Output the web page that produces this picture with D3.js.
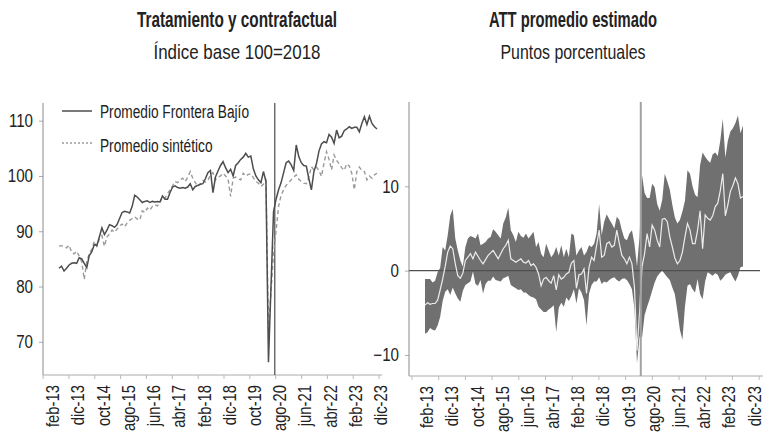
<!DOCTYPE html>
<html lang="es">
<head>
<meta charset="utf-8">
<title>Tratamiento y contrafactual - ATT promedio</title>
<script src="https://cdnjs.cloudflare.com/ajax/libs/d3/7.8.5/d3.min.js"></script>
<style>
body { margin: 0; background: #fff; }
svg text {
  font-family: "Liberation Sans", Arial, sans-serif;
  fill: #222;
}
.title { font-weight: bold; font-size: 22px; }
.subtitle { font-size: 21px; }
.yaxis .tick text { font-size: 18px; }
.xaxis .tick text { font-size: 18.5px; }
.legend text { font-size: 18px; }
</style>
</head>
<body>
<svg id="chart" width="764" height="433"></svg>
<script>

// monthly values, may-13 .. nov-23 (127 months)
var frontera = [
  83.3, 83.7, 82.8, 83.3, 83.9, 84.2, 84.3, 84.2, 85.2, 85.0,
  84.2, 83.4, 85.6, 86.3, 87.6, 87.4, 89.0, 90.6, 89.4, 90.2,
  91.2, 91.0, 90.7, 91.2, 92.3, 93.4, 93.6, 93.5, 93.3, 94.5,
  96.5, 96.2, 95.7, 95.2, 95.4, 95.5, 95.2, 95.4, 95.3, 95.4,
  95.3, 96.4, 95.8, 95.8, 97.0, 98.0, 98.2, 97.9, 97.8, 97.9,
  97.8, 98.0, 98.6, 97.5, 98.1, 98.3, 98.5, 98.6, 99.5, 100.6,
  101.0, 97.0, 99.8, 100.9, 101.9, 102.6, 101.5, 100.6, 101.2, 100.0,
  101.9, 102.4, 103.0, 103.4, 104.1, 103.4, 103.6, 101.3, 100.0, 99.3,
  98.8, 100.8, 99.0, 66.3, 80.0, 93.5, 95.8, 97.5, 98.8, 100.6,
  102.4, 102.7, 102.0, 101.0, 105.6, 103.5, 102.4, 101.9, 101.8, 99.5,
  97.5, 100.8, 102.2, 104.5, 105.8, 106.2, 106.0, 107.5, 107.0, 105.9,
  108.3, 106.9, 107.2, 108.2, 108.5, 108.9, 108.6, 108.8, 108.8, 108.0,
  109.5, 110.7, 109.3, 110.8, 109.5, 108.9, 108.5
];

var sintetico = [
  87.3, 87.4, 87.2, 87.0, 87.5, 86.2, 85.9, 86.4, 85.5, 84.5,
  81.3, 84.5, 86.0, 86.7, 88.2, 87.3, 88.6, 89.2, 87.3, 89.0,
  89.5, 90.2, 89.8, 90.4, 91.0, 91.3, 90.8, 91.5, 92.0, 92.3,
  92.6, 92.2, 92.0, 93.7, 93.4, 94.2, 93.8, 94.5, 94.8, 94.6,
  95.2, 96.2, 96.0, 96.8, 97.5, 98.2, 99.0, 98.8, 99.3, 99.6,
  99.0, 99.8, 100.8, 99.6, 98.8, 98.1, 98.6, 99.2, 98.9, 99.2,
  100.2, 100.6, 99.3, 99.8, 100.0, 100.5, 100.0, 99.4, 96.3, 99.6,
  99.8, 99.5, 99.3, 100.5, 100.0, 100.3, 100.4, 99.7, 99.0, 98.7,
  98.1, 98.5, 99.2, 72.2, 79.0, 86.0, 90.0, 94.5, 96.5, 97.5,
  98.3, 98.8, 99.3, 99.8, 100.2, 99.4, 99.0, 98.7, 98.6, 99.8,
  101.7, 101.1, 101.6, 101.0, 99.9, 102.3, 104.4, 103.0, 101.1, 103.8,
  102.8, 102.2, 101.5, 101.0, 102.2, 101.8, 100.5, 97.5, 100.8, 101.6,
  101.0, 100.8, 99.3, 100.0, 99.6, 100.2, 100.5
];

var att = [
  -4.1, -3.8, -4.0, -3.9, -3.9, -3.5, -2.3, -1.0, 0.5, 2.2,
  2.9, 2.6, 0.8, -0.6, -0.9, -0.3, 1.2, 1.6, 2.0, 1.4,
  2.2, 1.7, 1.2, 0.8, 1.3, 1.8, 2.1, 2.4, 1.9, 1.4,
  2.0, 2.6, 3.0, 3.6, 1.4, 1.2, 1.0, 1.2, 1.4, 1.0,
  0.9, 1.2, 0.6, 0.8, 0.4, -0.4, -1.8, -1.0, -0.8, -1.2,
  -1.5, -0.6, -2.3, -0.5, -1.0, -0.8, -0.4, -0.2, 0.9, 1.2,
  -2.1, -0.5, -0.4, 0.2, -2.7, 0.4, 1.6, 1.2, 3.0, 4.8,
  1.6, 1.8, 3.2, 3.4, 2.8, 3.0, 4.8, 3.2, 1.8, 1.4,
  0.8, 1.6, 0.8, -2.0, -9.5, -5.0, 0.5, 2.0, 4.4, 2.8,
  5.4, 4.8, 3.6, 2.8, 6.1, 6.2, 5.8, 4.0, 2.8, 1.5,
  0.8, 1.2, 2.2, 4.0, 5.6, 4.8, 3.2, 3.2, 4.8, 7.1,
  2.6, 6.6, 6.2, 6.0, 6.5, 7.6, 8.0, 9.5, 11.5, 6.5,
  7.8, 9.4, 10.1, 11.0, 10.3, 8.6, 8.8
];

var attHi = [
  -1.0, -1.0, -1.0, -1.4, -1.2, -0.2, 0.3, 2.8, 2.4, 4.2,
  6.5, 7.3, 3.8, 2.4, 1.2, 0.5, 2.8, 3.8, 4.1, 4.0,
  3.8, 4.4, 3.0, 3.2, 3.4, 3.8, 4.0, 4.9, 4.6, 4.2,
  3.8, 5.6, 6.3, 7.5, 4.8, 4.2, 3.4, 4.6, 4.1, 3.9,
  4.4, 3.8, 4.2, 4.6, 2.8, 3.4, 2.0, 1.6, 3.2, 2.4,
  1.6, 2.0, 2.8, 1.8, 3.0, 1.6, 2.6, 1.6, 4.4, 4.2,
  1.8, 2.4, 2.8, 1.8, 2.2, 3.0, 2.8, 3.2, 4.4, 7.9,
  4.2, 5.8, 6.7, 6.1, 5.6, 5.0, 6.4, 6.0, 4.8, 3.8,
  3.6, 4.4, 4.8, 3.2, 0.5, 4.0, 11.3, 9.2, 8.6, 8.6,
  10.3, 9.9, 7.9, 7.1, 8.4, 11.5, 10.6, 9.6, 7.8, 6.3,
  5.6, 6.0, 7.0, 8.3, 11.9, 11.5, 10.0, 9.0, 8.7, 12.5,
  14.0, 13.5, 13.1, 12.8, 13.8, 14.0, 13.6, 15.4, 18.0, 13.4,
  15.4, 16.5, 16.9, 17.5, 18.4, 16.3, 17.2
];

var attLo = [
  -7.5, -7.3, -6.8, -7.0, -7.1, -6.5, -5.5, -3.6, -2.5, -2.2,
  -2.9, -2.0, -2.7, -3.3, -3.7, -2.4, -1.7, -1.5, -1.3, -0.1,
  -1.6, -1.8, -1.1, -2.7, -1.6, -1.2, -1.2, -0.7, -1.1, -1.2,
  -1.3, -0.9, -0.8, -0.6, -1.7, -1.9, -2.1, -2.3, -2.2, -2.6,
  -2.6, -2.9, -3.1, -3.2, -3.4, -4.3, -4.6, -4.9, -4.9, -4.6,
  -4.4, -4.1, -7.3, -4.4, -3.8, -4.3, -3.2, -3.6, -3.0, -2.2,
  -3.9, -2.1, -2.6, -3.5, -6.5, -2.7, -1.7, -1.3, -1.3, -0.8,
  -1.6, -1.3, -1.4, -1.1, -0.9, -0.8, -1.1, -1.3, -1.0, -0.9,
  -1.1, -1.6, -2.2, -4.5, -11.0, -7.8, -7.9, -5.3, -4.3, -3.4,
  -2.4, -1.4, -0.7, -0.3, 0.0, -0.4, -0.8, -1.1, -2.0, -2.8,
  -4.8, -7.0, -8.2, -4.3, -1.8, -1.6, -2.2, -2.6, -1.0, -2.8,
  -3.4, -1.3, -0.2, -0.4, -0.6, -0.3, -0.5, -1.2, -0.9, -0.5,
  -0.3, -0.2, -0.8, -1.3, -0.6, 0.4, 0.5
];

var xLabels = ["feb-13", "dic-13", "oct-14", "ago-15", "jun-16", "abr-17", "feb-18",
               "dic-18", "oct-19", "ago-20", "jun-21", "abr-22", "feb-23", "dic-23"];
var yTicksLeft = [70, 80, 90, 100, 110];
var yTicksRight = [-10, 0, 10];
var treatMonth = 85.5;   // vertical marker (month index)

var legendItems = ["Promedio Frontera Bajío", "Promedio sintético"];

var svg = d3.select("#chart");

// the original uses a condensed face; squeeze a regular one to match
function condense(sel, factor) {
  sel.each(function() {
    var w = this.getComputedTextLength();
    d3.select(this)
      .attr("textLength", (w * factor).toFixed(1))
      .attr("lengthAdjust", "spacingAndGlyphs");
  });
}

function drawTitles(cx, title, subtitle, wTitle, wSub) {
  svg.append("text").attr("class", "title")
    .attr("x", cx).attr("y", 27).attr("text-anchor", "middle")
    .attr("textLength", wTitle).attr("lengthAdjust", "spacingAndGlyphs")
    .text(title);
  svg.append("text").attr("class", "subtitle")
    .attr("x", cx).attr("y", 59).attr("text-anchor", "middle")
    .attr("textLength", wSub).attr("lengthAdjust", "spacingAndGlyphs")
    .text(subtitle);
}

function drawAxes(g, x, y, yTicks, left, right, bottom, top, labelStart, labelStep, tickStart, tickStep) {
  // y axis
  var ya = g.append("g")
    .attr("class", "yaxis")
    .attr("transform", "translate(" + left + ",0)")
    .call(d3.axisLeft(y).tickValues(yTicks).tickSize(4).tickSizeOuter(0).tickPadding(6));
  ya.select(".domain").remove();
  ya.selectAll(".tick line").attr("stroke", "#aaa");
  condense(ya.selectAll("text"), 0.84);
  g.append("line")
    .attr("x1", left).attr("x2", left).attr("y1", top).attr("y2", bottom)
    .attr("stroke", "#8a8a8a").attr("stroke-width", 1);

  // x axis line + tick marks
  g.append("line")
    .attr("x1", left).attr("x2", right).attr("y1", bottom).attr("y2", bottom)
    .attr("stroke", "#aaa").attr("stroke-width", 1);
  g.selectAll(".xmark")
    .data(d3.range(xLabels.length))
    .enter().append("line")
      .attr("class", "xmark")
      .attr("x1", function(k) { return x(tickStart + k * tickStep); })
      .attr("x2", function(k) { return x(tickStart + k * tickStep); })
      .attr("y1", bottom).attr("y2", bottom + 4)
      .attr("stroke", "#bbb");

  // rotated labels
  var xa = g.append("g")
    .attr("class", "xaxis")
    .attr("transform", "translate(0," + bottom + ")")
    .call(d3.axisBottom(x)
      .tickValues(d3.range(xLabels.length).map(function(k) { return labelStart + k * labelStep; }))
      .tickFormat(function(d, i) { return xLabels[i]; })
      .tickSize(0).tickSizeOuter(0));
  xa.select(".domain").remove();
  xa.selectAll("text")
    .attr("transform", "rotate(-90)")
    .attr("text-anchor", "end")
    .attr("x", -10).attr("y", 0).attr("dy", "0.36em");
  condense(xa.selectAll("text"), 0.8);
}

// ---------- left panel ----------
drawTitles(237, "Tratamiento y contrafactual", "Índice base 100=2018", 200, 167);

var xL = d3.scaleLinear().domain([0, 126]).range([59, 377]);
var yL = d3.scaleLinear().domain([64, 113.2]).range([375, 103]);
var gL = svg.append("g");

drawAxes(gL, xL, yL, yTicksLeft, 43, 382, 375, 103, -2.8, 10.0, -6.3, 10.24);

gL.append("line")
  .attr("x1", xL(treatMonth)).attr("x2", xL(treatMonth))
  .attr("y1", 103).attr("y2", 375)
  .attr("stroke", "#4a4a4a").attr("stroke-width", 1.2);

var lineL = d3.line()
  .x(function(d, i) { return xL(i); })
  .y(function(d) { return yL(d); });

gL.append("path")
  .datum(sintetico)
  .attr("d", lineL)
  .attr("fill", "none")
  .attr("stroke", "#9a9a9a")
  .attr("stroke-width", 1.4)
  .attr("stroke-dasharray", "4,3");

gL.append("path")
  .datum(frontera)
  .attr("d", lineL)
  .attr("fill", "none")
  .attr("stroke", "#4d4d4d")
  .attr("stroke-width", 1.5);

var legend = gL.append("g").attr("class", "legend");
legend.selectAll("line")
  .data(legendItems)
  .enter().append("line")
    .attr("x1", 62).attr("x2", 92)
    .attr("y1", function(d, i) { return 111 + i * 32; })
    .attr("y2", function(d, i) { return 111 + i * 32; })
    .attr("stroke", function(d, i) { return i ? "#9a9a9a" : "#4d4d4d"; })
    .attr("stroke-width", 1.5)
    .attr("stroke-dasharray", function(d, i) { return i ? "2,2" : null; });
legend.selectAll("text")
  .data(legendItems)
  .enter().append("text")
    .attr("x", 100)
    .attr("y", function(d, i) { return 112 + i * 34; })
    .attr("dy", "0.35em")
    .text(function(d) { return d; });
condense(legend.selectAll("text"), 0.76);

// ---------- right panel ----------
drawTitles(573, "ATT promedio estimado", "Puntos porcentuales", 168, 145);

var xR = d3.scaleLinear().domain([0, 126]).range([425, 743]);
var yR = d3.scaleLinear().domain([-12.5, 20]).range([376, 102]);
var gR = svg.append("g");

drawAxes(gR, xR, yR, yTicksRight, 409, 763, 376, 102, 0.4, 9.98, -5.15, 10.58);

var band = d3.area()
  .x(function(d, i) { return xR(i); })
  .y0(function(d, i) { return yR(attLo[i]); })
  .y1(function(d) { return yR(d); });

gR.append("path")
  .datum(attHi)
  .attr("d", band)
  .attr("fill", "#707070");

gR.append("line")
  .attr("x1", 409).attr("x2", 760)
  .attr("y1", yR(0)).attr("y2", yR(0))
  .attr("stroke", "#505050").attr("stroke-width", 1.2);

gR.append("path")
  .datum(att)
  .attr("d", d3.line()
    .x(function(d, i) { return xR(i); })
    .y(function(d) { return yR(d); }))
  .attr("fill", "none")
  .attr("stroke", "#ececec")
  .attr("stroke-width", 1.2);

gR.append("line")
  .attr("x1", xR(treatMonth)).attr("x2", xR(treatMonth))
  .attr("y1", 102).attr("y2", 376)
  .attr("stroke", "#a2a2a2").attr("stroke-width", 2);

</script>
</body>
</html>
